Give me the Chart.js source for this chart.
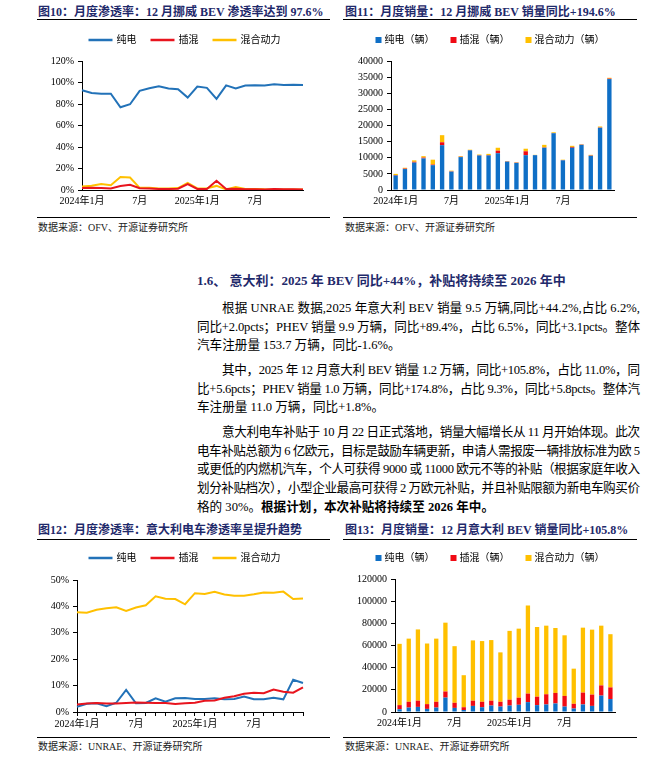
<!DOCTYPE html>
<html><head><meta charset="utf-8">
<script src="https://cdn.jsdelivr.net/npm/chart.js@4"></script>
<style>
body{margin:0;width:671px;height:761px;background:#fff;position:relative;overflow:hidden;font-family:'Liberation Serif','Noto Sans CJK SC',serif;}
.abs{position:absolute;white-space:nowrap;}
.title{font-size:12px;font-weight:bold;color:#1F2A6B;line-height:16px;}
.rule{position:absolute;height:0;border-top:1.5px solid #000;}
.rule2{position:absolute;height:0;border-top:1px solid #000;}
.src{font-size:10px;color:#222;line-height:12px;}
.head{font-size:13px;font-weight:bold;color:#1F2A6B;line-height:20px;}
.p{position:absolute;font-size:12.6px;line-height:18px;color:#000;white-space:nowrap;}
canvas{position:absolute;}
</style></head><body>

<div class="abs title" style="left:38px;top:4px;">图10：月度渗透率：12 月挪威 BEV 渗透率达到 97.6%</div>
<div class="rule" style="left:37px;top:19px;width:293px;"></div>
<div class="abs title" style="left:345px;top:4px;">图11：月度销量：12 月挪威 BEV 销量同比+194.6%</div>
<div class="rule" style="left:343px;top:19px;width:294px;"></div>
<div class="rule2" style="left:37px;top:217px;width:293px;"></div>
<div class="rule2" style="left:343px;top:217px;width:294px;"></div>
<div class="abs src" style="left:38px;top:222px;">数据来源：OFV、开源证券研究所</div>
<div class="abs src" style="left:345px;top:222px;">数据来源：OFV、开源证券研究所</div>

<div class="abs head" style="left:197px;top:271px;">1.6、 意大利：2025 年 BEV 同比+44%，补贴将持续至 2026 年中</div>

<div class="p j" data-w="418" style="left:222px;top:299px;">根据 UNRAE 数据,2025 年意大利 BEV 销量 9.5 万辆,同比+44.2%,占比 6.2%,</div>
<div class="p j" data-w="443" style="left:197px;top:317.7px;">同比+2.0pcts；PHEV 销量 9.9 万辆，同比+89.4%，占比 6.5%，同比+3.1pcts。整体</div>
<div class="p" style="left:197px;top:336.4px;">汽车注册量 153.7 万辆，同比-1.6%。</div>

<div class="p j" data-w="418" style="left:222px;top:361px;">其中，2025 年 12 月意大利 BEV 销量 1.2 万辆，同比+105.8%，占比 11.0%，同</div>
<div class="p j" data-w="443" style="left:197px;top:379.7px;">比+5.6pcts；PHEV 销量 1.0 万辆，同比+174.8%，占比 9.3%，同比+5.8pcts。整体汽</div>
<div class="p" style="left:197px;top:398.4px;">车注册量 11.0 万辆，同比+1.8%。</div>

<div class="p j" data-w="418" style="left:222px;top:423px;">意大利电车补贴于 10 月 22 日正式落地，销量大幅增长从 11 月开始体现。此次</div>
<div class="p j" data-w="443" style="left:197px;top:441.7px;">电车补贴总额为 6 亿欧元，目标是鼓励车辆更新，申请人需报废一辆排放标准为欧 5</div>
<div class="p j" data-w="443" style="left:197px;top:460.4px;">或更低的内燃机汽车，个人可获得 9000 或 11000 欧元不等的补贴（根据家庭年收入</div>
<div class="p j" data-w="443" style="left:197px;top:479.1px;">划分补贴档次），小型企业最高可获得 2 万欧元补贴，并且补贴限额为新电车购买价</div>
<div class="p" style="left:197px;top:497.8px;">格的 30%。<b>根据计划，本次补贴将持续至 2026 年中。</b></div>

<div class="abs title" style="left:38px;top:522px;">图12：月度渗透率：意大利电车渗透率呈提升趋势</div>
<div class="rule" style="left:37px;top:539px;width:293px;"></div>
<div class="abs title" style="left:345px;top:522px;">图13：月度销量：12 月意大利 BEV 销量同比+105.8%</div>
<div class="rule" style="left:343px;top:539px;width:294px;"></div>
<div class="rule2" style="left:37px;top:737px;width:293px;"></div>
<div class="rule2" style="left:343px;top:737px;width:294px;"></div>
<div class="abs src" style="left:38px;top:741px;">数据来源：UNRAE、开源证券研究所</div>
<div class="abs src" style="left:345px;top:741px;">数据来源：UNRAE、开源证券研究所</div>

<canvas id="c10"></canvas>
<canvas id="c11"></canvas>
<canvas id="c12"></canvas>
<canvas id="c13"></canvas>

<script>
// fit justified paragraph lines to their column width
document.querySelectorAll('.j').forEach(el => {
  const target = +el.dataset.w;
  const w = el.getBoundingClientRect().width;
  const n = [...el.textContent].length;
  el.style.letterSpacing = ((target - w) / (n - 1)) + 'px';
});

// ---------- data ----------
const categories = ['2024年1月','2024年2月','2024年3月','2024年4月','2024年5月','2024年6月','2024年7月','2024年8月','2024年9月','2024年10月','2024年11月','2024年12月',
                    '2025年1月','2025年2月','2025年3月','2025年4月','2025年5月','2025年6月','2025年7月','2025年8月','2025年9月','2025年10月','2025年11月','2025年12月'];
const tickLabels = ['2024年1月','','','','','','7月','','','','','','2025年1月','','','','','','7月','','','','',''];

const seriesNames = ['纯电','插混','混合动力'];
const seriesNamesUnit = ['纯电（辆）','插混（辆）','混合动力（辆）'];

// Norway penetration (%)
const norwayBEVShare  = [92.8, 90.3, 89.6, 89.6, 77.0, 79.8, 92.2, 94.6, 96.6, 94.4, 93.8, 86.0, 96.3, 95.0, 84.7, 97.3, 94.4, 97.2, 97.4, 97.2, 98.3, 97.7, 97.8, 97.6];
const norwayPHEVShare = [1.9, 2.0, 1.8, 1.5, 3.8, 4.8, 1.6, 1.4, 1.0, 1.0, 1.2, 5.5, 1.0, 1.0, 8.6, 1.0, 1.2, 0.6, 0.6, 0.5, 1.0, 0.6, 0.6, 0.5];
const norwayHEVShare  = [3.2, 4.0, 5.6, 4.4, 12.0, 11.6, 2.0, 2.0, 1.5, 1.5, 1.8, 6.5, 1.5, 1.6, 3.8, 0.6, 2.7, 1.0, 1.0, 0.6, 0.5, 0.5, 0.5, 0.5];

// Norway sales (units)
const norwayBEV  = [4500, 6500, 8500, 9800, 7700, 13900, 5700, 10200, 12300, 10700, 10700, 11400, 8800, 8400, 10800, 10800, 13100, 17600, 9200, 13100, 14000, 10600, 19300, 34400];
const norwayPHEV = [150, 150, 250, 250, 200, 900, 100, 100, 80, 100, 150, 800, 80, 80, 1200, 40, 100, 80, 80, 250, 80, 100, 100, 150];
const norwayHEV  = [350, 250, 450, 450, 1500, 2200, 200, 200, 120, 200, 350, 900, 120, 120, 800, 60, 800, 220, 120, 350, 120, 200, 300, 250];

// Italy penetration (%)
const italyBEVShare  = [2.0, 3.1, 3.3, 2.2, 3.5, 8.4, 3.3, 3.4, 5.2, 3.9, 5.2, 5.3, 4.9, 4.9, 5.2, 4.8, 4.9, 5.9, 4.8, 4.8, 5.4, 4.8, 12.2, 11.0];
const italyPHEVShare = [2.8, 3.2, 3.4, 3.2, 3.2, 3.4, 3.6, 3.5, 3.4, 3.4, 3.0, 3.3, 3.5, 4.3, 4.4, 5.4, 6.0, 6.9, 7.3, 7.1, 8.5, 7.7, 7.3, 9.3];
const italyHEVShare  = [37.8, 37.6, 38.7, 39.3, 39.7, 38.3, 39.6, 40.4, 43.8, 42.9, 42.8, 40.8, 45.0, 44.7, 45.5, 44.5, 44.0, 44.0, 44.6, 45.3, 45.2, 45.6, 42.8, 43.0];

// Italy sales (units)
const italyBEV  = [2500, 4000, 4600, 2800, 4000, 13000, 3700, 1800, 5500, 4300, 5800, 4900, 5800, 6500, 8900, 6200, 6800, 7700, 4900, 3100, 6800, 5500, 14800, 11700];
const italyPHEV = [3700, 5200, 5600, 4300, 5200, 5500, 4600, 2500, 4700, 4900, 4400, 4300, 5300, 6400, 7700, 7600, 9200, 9500, 9600, 4300, 10700, 10200, 9200, 10500];
const italyHEV  = [55300, 57000, 64300, 54700, 57000, 62100, 51100, 28900, 54400, 54800, 54700, 44600, 62100, 62300, 79500, 62900, 61900, 58600, 54700, 31700, 58600, 58600, 53900, 48000];

// ---------- style ----------
const BLUE_LINE = '#2272B8', RED_LINE = '#E8141E', YEL_LINE = '#FFC000';
const BLUE_BAR = '#0F6FC6', RED_BAR = '#F00A14', YEL_BAR = '#FFC000';
const FONT = "'Liberation Serif','Noto Sans CJK SC',serif";

const fixedLegend = {
  id: 'fixedLegend',
  afterDraw(chart, args, o) {
    const ctx = chart.ctx;
    ctx.save();
    ctx.font = o.size + 'px ' + FONT;
    ctx.textBaseline = 'middle';
    const items = chart.data.datasets.map(ds => ({ text: ds.label, color: ds.borderColor || ds.backgroundColor }));
    const widths = items.map(it => o.markW + o.gap + ctx.measureText(it.text).width);
    const total = widths.reduce((a, b) => a + b, 0) + o.spacing * (items.length - 1);
    let x = (chart.width - total) / 2 + (o.dx || 0);
    const y = o.y;
    items.forEach((it, i) => {
      if (o.kind === 'line') {
        ctx.strokeStyle = it.color; ctx.lineWidth = 2.5;
        ctx.beginPath(); ctx.moveTo(x, y); ctx.lineTo(x + o.markW, y); ctx.stroke();
      } else {
        ctx.fillStyle = it.color; ctx.fillRect(x, y - o.markW / 2, o.markW, o.markW);
      }
      ctx.fillStyle = '#000';
      ctx.fillText(it.text, x + o.markW + o.gap, y);
      x += widths[i] + o.spacing;
    });
    ctx.restore();
  }
};

function makeChart(id, box, plot, cfg) {
  const c = document.getElementById(id);
  c.width = box.w; c.height = box.h;
  c.style.left = box.x + 'px'; c.style.top = box.y + 'px';
  const yW = plot.l - box.x, padTop = plot.t - box.y, padRight = box.x + box.w - plot.r, xH = box.y + box.h - plot.b;
  const isBar = cfg.type === 'bar';
  return new Chart(c, {
    type: cfg.type,
    data: { labels: categories, datasets: cfg.datasets },
    plugins: [fixedLegend],
    options: {
      responsive: false, animation: false, devicePixelRatio: 1,
      layout: { padding: { top: padTop, right: padRight, left: 0, bottom: 0 } },
      plugins: {
        legend: { display: false }, tooltip: { enabled: false },
        fixedLegend: Object.assign({ y: cfg.legendY - box.y }, cfg.legend)
      },
      scales: {
        x: {
          stacked: isBar, offset: isBar,
          grid: { display: true, drawOnChartArea: false, drawTicks: !!cfg.xTicks, tickLength: 4, color: '#000', lineWidth: 1 },
          border: { display: true, color: '#000', width: 1 },
          ticks: { autoSkip: false, maxRotation: 0, minRotation: 0, padding: cfg.xTicks ? 2 : 5, color: '#000',
                   font: { family: FONT, size: 10 }, callback: (v, i) => tickLabels[i] },
          afterFit(s) { s.height = xH; }
        },
        y: {
          stacked: isBar, min: cfg.yMin, max: cfg.yMax,
          grid: { display: true, drawOnChartArea: false, drawTicks: true, tickLength: 4, color: '#000', lineWidth: 1 },
          border: { display: true, color: '#000', width: 1 },
          ticks: { stepSize: cfg.yStep, padding: 4, color: '#000', font: { family: FONT, size: 10 }, callback: cfg.yFmt },
          afterFit(s) { s.width = yW; }
        }
      }
    }
  });
}

function lineDS(label, data, color, order) {
  return { label, data, borderColor: color, backgroundColor: color, borderWidth: 2, pointRadius: 0, tension: 0, fill: false, order };
}
function barDS(label, data, color) {
  return { label, data, backgroundColor: color, borderWidth: 0, barPercentage: 0.47, categoryPercentage: 1, stack: 's' };
}
const pct = v => v + '%';
const num = v => String(v);
const lineLegend = { kind: 'line', size: 10, markW: 24, gap: 4, spacing: 14 };
const barLegend = { kind: 'box', size: 10, markW: 6, gap: 3, spacing: 16 };

makeChart('c10', { x: 37, y: 28, w: 295, h: 185 }, { l: 82, t: 61, r: 303, b: 190 }, {
  type: 'line', legendY: 40, legend: lineLegend, yMin: 0, yMax: 120, yStep: 20, yFmt: pct, xTicks: false,
  datasets: [lineDS(seriesNames[0], norwayBEVShare, BLUE_LINE, 3), lineDS(seriesNames[1], norwayPHEVShare, RED_LINE, 1), lineDS(seriesNames[2], norwayHEVShare, YEL_LINE, 2)]
});
makeChart('c11', { x: 343, y: 28, w: 294, h: 185 }, { l: 391, t: 61, r: 614, b: 190 }, {
  type: 'bar', legendY: 40, legend: barLegend, yMin: 0, yMax: 40000, yStep: 5000, yFmt: num, xTicks: false,
  datasets: [barDS(seriesNamesUnit[0], norwayBEV, BLUE_BAR), barDS(seriesNamesUnit[1], norwayPHEV, RED_BAR), barDS(seriesNamesUnit[2], norwayHEV, YEL_BAR)]
});
makeChart('c12', { x: 37, y: 548, w: 295, h: 185 }, { l: 77, t: 580, r: 303, b: 712 }, {
  type: 'line', legendY: 558, legend: lineLegend, yMin: 0, yMax: 50, yStep: 5, yFmt: pct, xTicks: true,
  datasets: [lineDS(seriesNames[0], italyBEVShare, BLUE_LINE, 3), lineDS(seriesNames[1], italyPHEVShare, RED_LINE, 2), lineDS(seriesNames[2], italyHEVShare, YEL_LINE, 1)]
});
makeChart('c13', { x: 343, y: 548, w: 294, h: 185 }, { l: 395, t: 579, r: 615, b: 712 }, {
  type: 'bar', legendY: 558, legend: barLegend, yMin: 0, yMax: 120000, yStep: 20000, yFmt: num, xTicks: false,
  datasets: [barDS(seriesNamesUnit[0], italyBEV, BLUE_BAR), barDS(seriesNamesUnit[1], italyPHEV, RED_BAR), barDS(seriesNamesUnit[2], italyHEV, YEL_BAR)]
});
</script>
</body></html>
